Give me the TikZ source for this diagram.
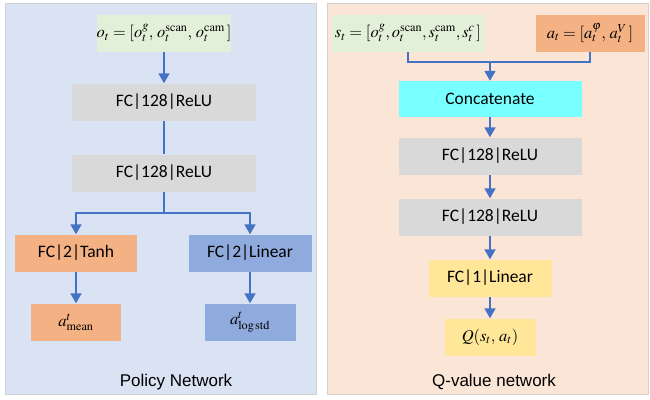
\documentclass[tikz,border=0pt]{standalone}
\usepackage{mathptmx}
\usepackage[no-math]{fontspec}
\setmainfont{Carlito}
\newfontfamily\capfont{Liberation Sans}
\usetikzlibrary{arrows.meta}
\definecolor{netBlue}{HTML}{4472C4}
\definecolor{netPolicyBg}{HTML}{DAE3F3}
\definecolor{netQBg}{HTML}{FBE5D6}
\definecolor{netGreen}{HTML}{E2F0D9}
\definecolor{netGray}{HTML}{D9D9D9}
\definecolor{netOrange}{HTML}{F4B183}
\definecolor{netSteel}{HTML}{8FAADC}
\definecolor{netCyan}{HTML}{78FFFF}
\definecolor{netYellow}{HTML}{FFE699}
\definecolor{netEdge}{HTML}{D0D0D0}
\tikzset{
  net panel/.style={draw=netEdge, line width=0.6pt},
  net box/.style={inner sep=0pt, minimum height=37pt, font=\fontsize{17.5}{20}\selectfont},
  net math/.style={net box, font=\fontsize{16.5}{20}\selectfont},
  net arrow/.style={draw=netBlue, line width=1.8pt, -{Triangle[width=11pt,length=10pt]}},
  net line/.style={draw=netBlue, line width=1.8pt},
  net caption/.style={font=\capfont\fontsize{17}{20}\selectfont},
}

\begin{document}
\begin{tikzpicture}[x=1pt, y=-1pt]
  \useasboundingbox (0,0) rectangle (650,399);

  % Panels
  \fill[white] (0,0) rectangle (650,399);
  \draw[net panel, fill=netPolicyBg] (5,3) rectangle (316,394);
  \draw[net panel, fill=netQBg] (327,3) rectangle (648,394);

  % Left: policy network
  \node[net math, fill=netGreen, minimum width=134pt] (obs) at (164,33)
    {$o_t=[o_t^g,\,o_t^{\mathrm{scan}},\,o_t^{\mathrm{cam}}\,]$};
  \node[net box, fill=netGray, minimum width=184pt] (pfc1) at (164,102) {FC|128|ReLU};
  \node[net box, fill=netGray, minimum width=184pt] (pfc2) at (164,173) {FC|128|ReLU};
  \node[net box, fill=netOrange, minimum width=122pt] (tanh) at (76,253) {FC|2|Tanh};
  \node[net box, fill=netSteel, minimum width=123pt] (plin) at (250,253) {FC|2|Linear};
  \node[net math, fill=netOrange, minimum width=90pt] (mean) at (76,322)
    {$a_{\mathrm{mean}}^t$};
  \node[net math, fill=netSteel, minimum width=91pt] (logstd) at (250,322)
    {$a_{\mathrm{log\,std}}^t$};
  \coordinate (split) at (164,213);

  \draw[net arrow] (obs) -- (pfc1);
  \draw[net line] (pfc1) -- (pfc2);
  \draw[net line] (pfc2) -- (split);
  \draw[net arrow] (split) -| (tanh);
  \draw[net arrow] (split) -| (plin);
  \draw[net arrow] (tanh) -- (mean);
  \draw[net arrow] (plin) -- (logstd);
  \node[net caption] (pcap) at (176,382) {Policy Network};

  % Right: Q-value network
  \node[net math, fill=netGreen, minimum width=153pt] (state) at (408,33)
    {$s_t=[o_t^g,o_t^{\mathrm{scan}},s_t^{\mathrm{cam}},s_t^c\,]$};
  \node[net math, fill=netOrange, minimum width=109pt] (act) at (590,33)
    {$a_t=[a_t^{\varphi},\,a_t^V\,]$};
  \node[net box, fill=netCyan, minimum width=183pt, minimum height=36pt] (concat) at (490,99) {Concatenate};
  \node[net box, fill=netGray, minimum width=183pt] (qfc1) at (490,156) {FC|128|ReLU};
  \node[net box, fill=netGray, minimum width=183pt] (qfc2) at (490,217) {FC|128|ReLU};
  \node[net box, fill=netYellow, minimum width=123pt] (qlin) at (490,278) {FC|1|Linear};
  \node[net math, fill=netYellow, minimum width=91pt] (qval) at (490,337) {$Q(s_t,\,a_t)$};
  \coordinate (join) at (490,62);

  \draw[net line] (state.south) |- (join) -| (act.south);
  \draw[net arrow] (join) -- (concat);
  \draw[net arrow] (concat) -- (qfc1);
  \draw[net arrow] (qfc1) -- (qfc2);
  \draw[net arrow] (qfc2) -- (qlin);
  \draw[net arrow] (qlin) -- (qval);
  \node[net caption] (qcap) at (494,382) {Q-value network};
\end{tikzpicture}
\end{document}
